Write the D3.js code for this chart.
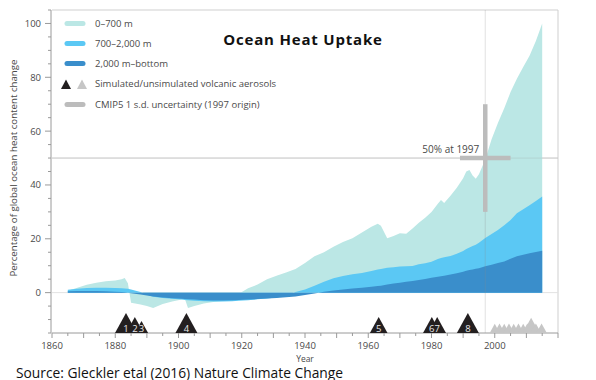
<!DOCTYPE html>
<html>
<head>
<meta charset="utf-8">
<script src="https://cdn.jsdelivr.net/npm/d3@7/dist/d3.min.js"></script>
<style>
  html, body { margin: 0; padding: 0; background: #fff; }
  svg { display: block; }
  text { font-family: "Open Sans", sans-serif; }
</style>
</head>
<body>
<svg id="chart" width="596" height="380"></svg>
<script>
// ---------- DATA ----------
const years = [1865,1868,1871,1874,1877,1880,1882,1883,1884,1885,1888,1890,1892,1895,1898,1901,1902,1903,1905,1908,1911,1914,1917,1919,1922,1925,1928,1931,1934,1937,1940,1943,1946,1949,1952,1955,1958,1961,1963,1964,1966,1968,1970,1972,1974,1976,1978,1980,1982,1983,1984,1986,1988,1990,1991,1992,1993,1994,1995,1997,1999,2001,2003,2005,2007,2009,2011,2013,2015];
// cumulative share: 0-700 m layer top (total)
const total0to700 = [0.7,1.8,2.9,3.7,4.2,4.5,5.0,5.4,3.5,-3.8,-4.4,-5.0,-5.7,-4.2,-3.3,-2.6,-2.3,-5.7,-5.0,-4.0,-3.5,-3.1,-2.5,-0.5,1.6,3.0,5.0,6.3,7.5,8.8,11.0,13.5,15.0,17.0,18.8,20.2,22.3,24.5,25.6,24.8,20.2,21.0,22.1,21.9,23.8,26.0,27.8,30.0,33.0,34.4,33.3,36.0,39.0,42.5,45.0,45.6,43.5,42.3,44.0,49.5,57.0,63.0,68.5,74.5,79.5,83.8,88.0,93.5,100.0];
// cumulative share: 700-2,000 m layer top
const top700to2000 = [1.1,1.4,1.7,1.8,1.8,1.7,1.6,1.5,1.4,1.2,0.2,-0.8,-1.5,-2.0,-2.3,-2.6,-2.7,-2.8,-3.0,-3.2,-3.3,-3.3,-3.2,-3.0,-2.8,-2.5,-2.2,-1.8,-1.2,0.2,1.2,2.6,4.0,5.3,6.2,6.8,7.3,8.0,8.6,8.8,9.2,9.4,9.7,9.8,9.9,10.5,10.9,11.5,12.5,12.9,13.1,13.6,14.4,15.5,16.2,16.8,17.3,17.8,18.5,20.3,21.8,23.3,25.0,27.0,29.5,31.0,32.5,34.0,35.7];
// 2,000 m - bottom layer
const top2000toBottom = [0.5,0.6,0.6,0.6,0.5,0.3,0.2,0.1,0.0,-0.2,-0.7,-1.1,-1.4,-1.8,-2.1,-2.3,-2.4,-2.5,-2.6,-2.8,-2.9,-2.9,-2.8,-2.7,-2.6,-2.4,-2.2,-2.0,-1.7,-1.4,-0.9,-0.3,0.3,0.8,1.2,1.5,1.8,2.2,2.5,2.6,3.0,3.4,3.7,4.0,4.3,4.7,5.1,5.5,5.9,6.1,6.3,6.7,7.2,7.8,8.1,8.4,8.6,8.9,9.1,9.8,10.4,11.0,11.6,12.6,13.5,14.1,14.6,15.1,15.6];

// simulated volcanic eruptions (numbered), magnitude class
const volcanoYears = [1883.4,1886.2,1888.3,1902.5,1963.3,1980.1,1981.8,1991.5];
const volcanoLabels = ["1","2","3","4","5","6","7","8"];
const volcanoMag = [3,2,1,3,2,2,2,3];
// unsimulated volcanic aerosols
const unsimYears = [2000,2001.5,2003,2004.5,2006,2007.5,2009,2010.3,2011.5,2013,2014.8];
const unsimMag = [0.3,0.4,0.3,0.4,0.3,0.4,0.3,0.4,1.8,0.4,0.4];

// CMIP5 uncertainty cross (1997 origin)
const crossYear = 1997, crossValue = 50, crossSdValue = 20, crossSdYears = 8;

const xTicksLabelled = [1860,1880,1900,1920,1940,1960,1980,2000];
const yTicksLabelled = [0,20,40,60,80,100];

const legendLabels = ["0\u2013700 m","700\u20132,000 m","2,000 m\u2013bottom","Simulated/unsimulated volcanic aerosols","CMIP5 1 s.d. uncertainty (1997 origin)"];

// ---------- CHART ----------
const col = { teal:"#bbe7e5", mid:"#5bc8f4", deep:"#3a8ecb", black:"#231f20", grey:"#c6c6c6", cross:"#bcbcbc", text:"#4a4a4a" };
const svg = d3.select("#chart");
const x = d3.scaleLinear().domain([1860,2020]).range([52,558]);
const y = d3.scaleLinear().domain([-15,105]).range([333,10]);
const hScale = d3.scaleLinear().domain([0,3]).range([8,20]);

// frame (top/right)
svg.append("path").attr("d", `M${x(1860)},${y(105)}H${x(2020)}V${y(-15)}`)
  .attr("fill","none").attr("stroke","#cfcfcf").attr("stroke-width",1);

// reference lines
svg.append("line").attr("x1",x(1860)).attr("x2",x(2020)).attr("y1",y(0)).attr("y2",y(0)).attr("stroke","#e2e2e2");
svg.append("line").attr("x1",x(1860)).attr("x2",x(2020)).attr("y1",y(50)).attr("y2",y(50)).attr("stroke","#d4d4d4");

const rows = years.map((yr,i)=>({yr, a:total0to700[i], b:top700to2000[i], c:top2000toBottom[i]}));
const area = key => d3.area().x(d=>x(d.yr)).y0(y(0)).y1(d=>y(d[key]));
svg.append("path").datum(rows).attr("d", area("a")).attr("fill", col.teal);
svg.append("path").datum(rows).attr("d", area("b")).attr("fill", col.mid);
svg.append("path").datum(rows).attr("d", area("c")).attr("fill", col.deep);

// 1997 vertical line
svg.append("line").attr("x1",x(crossYear)).attr("x2",x(crossYear)).attr("y1",y(105)).attr("y2",y(-15))
  .attr("stroke","rgba(140,140,140,0.25)");
// 50 line over areas faintly
svg.append("line").attr("x1",x(1860)).attr("x2",x(2020)).attr("y1",y(50)).attr("y2",y(50)).attr("stroke","rgba(140,140,140,0.2)");

// uncertainty cross
svg.append("line").attr("x1",x(crossYear)).attr("x2",x(crossYear))
  .attr("y1",y(crossValue+crossSdValue)).attr("y2",y(crossValue-crossSdValue))
  .attr("stroke",col.cross).attr("stroke-width",4.5);
svg.append("line").attr("x1",x(crossYear-crossSdYears)).attr("x2",x(crossYear+crossSdYears))
  .attr("y1",y(crossValue)).attr("y2",y(crossValue))
  .attr("stroke",col.cross).attr("stroke-width",4.5);
svg.append("text").attr("x",x(crossYear)-6).attr("y",y(crossValue)-5).attr("text-anchor","end")
  .attr("font-size",10).attr("fill",col.text).text("50% at 1997");

// axes
const base = y(-15);
const xAxis = svg.append("g").attr("transform",`translate(0,${base})`);
xAxis.append("line").attr("x1",x(1860)).attr("x2",x(2020)).attr("stroke","#9a9a9a");
d3.range(1860,2021,5).forEach(t=>{
  xAxis.append("line").attr("x1",x(t)).attr("x2",x(t)).attr("y1",0).attr("y2", t%10===0?5:3).attr("stroke","#9a9a9a");
});
xAxis.selectAll("text.tl").data(xTicksLabelled).join("text").attr("class","tl")
  .attr("x",d=>x(d)).attr("y",16).attr("text-anchor","middle").attr("font-size",9.5).attr("fill",col.text).text(d=>d);

const yAxis = svg.append("g");
yAxis.append("line").attr("x1",x(1860)-1).attr("x2",x(1860)-1).attr("y1",y(105)).attr("y2",y(-15)).attr("stroke","#9a9a9a");
d3.range(-15,106,5).forEach(t=>{
  yAxis.append("line").attr("x1",x(1860)-1).attr("x2",x(1860)-1-(t%20===0?6:3)).attr("y1",y(t)).attr("y2",y(t)).attr("stroke","#9a9a9a");
});
yAxis.selectAll("text.tl").data(yTicksLabelled).join("text").attr("class","tl")
  .attr("x",41).attr("y",d=>y(d)+3.5).attr("text-anchor","end").attr("font-size",9.5).attr("fill",col.text).text(d=>d);

svg.append("text").attr("transform",`translate(17,${168}) rotate(-90)`).attr("text-anchor","middle")
  .attr("font-size",9.7).attr("fill",col.text).text("Percentage of global ocean heat content change");
svg.append("text").attr("x",305).attr("y",362).attr("text-anchor","middle").attr("font-size",8.5).attr("fill",col.text).text("Year");

// volcano triangles
const tri = (yr, h) => { const cx=x(yr), w=h*1.1; return `M${cx-w/2},${base}L${cx},${base-h}L${cx+w/2},${base}Z`; };
svg.selectAll("path.unsim").data(unsimYears).join("path").attr("class","unsim")
  .attr("d",(d,i)=>tri(d,hScale(unsimMag[i]))).attr("fill",col.grey);
svg.selectAll("path.sim").data(volcanoYears).join("path").attr("class","sim")
  .attr("d",(d,i)=>tri(d,hScale(volcanoMag[i]))).attr("fill",col.black);
svg.selectAll("text.vl").data(volcanoYears).join("text").attr("class","vl")
  .attr("x",d=>x(d)).attr("y",base-1).attr("text-anchor","middle").attr("font-size",9.5).attr("fill","#e8e8e8")
  .text((d,i)=>volcanoLabels[i]);

// title
svg.append("text").attr("x",303).attr("y",45).attr("text-anchor","middle")
  .attr("font-family","DejaVu Sans").attr("font-weight","bold").attr("font-size",15).attr("letter-spacing",0.8)
  .attr("fill","#111").text("Ocean Heat Uptake");

// legend
const lg = svg.append("g");
const ly = [23.5,43.5,63.5,84,104.5];
[col.teal,col.mid,col.deep].forEach((c,i)=>{
  lg.append("line").attr("x1",67).attr("x2",83).attr("y1",ly[i]).attr("y2",ly[i]).attr("stroke",c).attr("stroke-width",5).attr("stroke-linecap","round");
});
lg.append("line").attr("x1",67).attr("x2",83).attr("y1",ly[4]).attr("y2",ly[4]).attr("stroke",col.cross).attr("stroke-width",5).attr("stroke-linecap","round");
lg.append("path").attr("d",`M61,${ly[3]+5}L66,${ly[3]-4.5}L71,${ly[3]+5}Z`).attr("fill",col.black);
lg.append("path").attr("d",`M77,${ly[3]+5}L82,${ly[3]-4.5}L87,${ly[3]+5}Z`).attr("fill",col.grey);
legendLabels.forEach((t,i)=>{
  lg.append("text").attr("x",95).attr("y",ly[i]+3.3).attr("font-size",9.5).attr("fill",col.text).text(t);
});

// source
svg.append("text").attr("x",16).attr("y",377.5).attr("font-family","DejaVu Sans").attr("font-size",13.8).attr("fill","#111")
  .text("Source: Gleckler etal (2016) Nature Climate Change");
</script>
</body>
</html>
